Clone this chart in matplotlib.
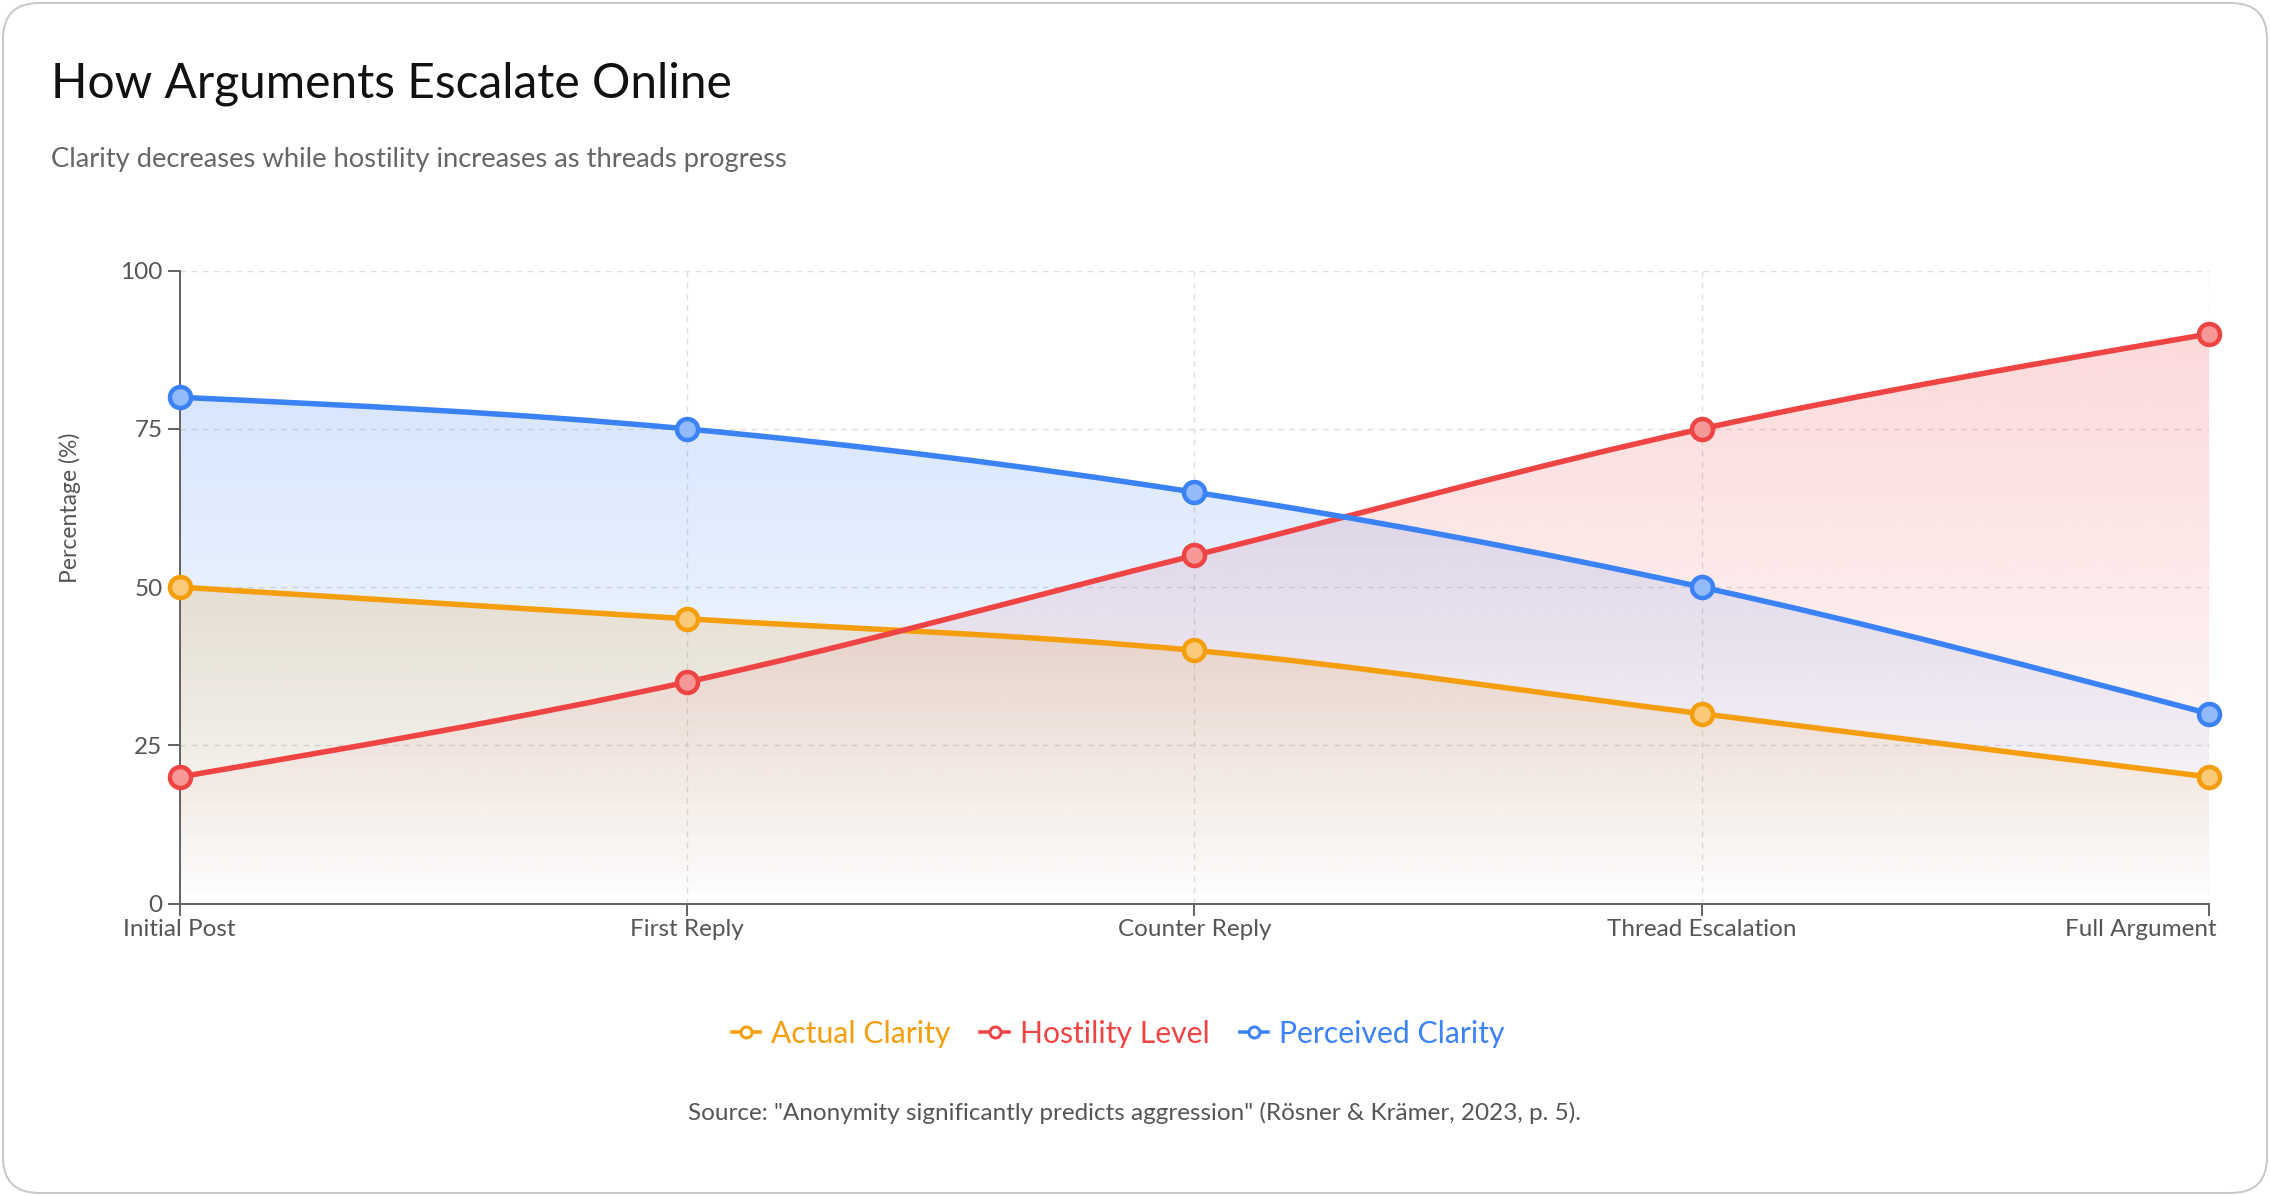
import numpy as np
import matplotlib
matplotlib.use("Agg")
import matplotlib.pyplot as plt
from matplotlib.path import Path
from matplotlib.patches import PathPatch, FancyBboxPatch
from matplotlib.lines import Line2D
from matplotlib.transforms import IdentityTransform, ScaledTranslation

# data
stages = ["Initial Post", "First Reply", "Counter Reply", "Thread Escalation", "Full Argument"]
actual_clarity = [50, 45, 40, 30, 20]
hostility_level = [20, 35, 55, 75, 90]
perceived_clarity = [80, 75, 65, 50, 30]

series_names = ["Actual Clarity", "Hostility Level", "Perceived Clarity"]
series_values = [actual_clarity, hostility_level, perceived_clarity]
series_colors = ["#f59e0b", "#ef4444", "#3b82f6"]

plt.rcParams["font.family"] = ["Lato", "DejaVu Sans"]

W, H = 2270, 1196
fig = plt.figure(figsize=(W / 100, H / 100), dpi=100)
PX = 0.72  # points per pixel


def monotone_tangents(x, y):
    # d3 curveMonotoneX style slopes
    n = len(x)
    h = np.diff(x)
    s = np.diff(y) / h
    t = np.zeros(n)
    for i in range(1, n - 1):
        p = (s[i - 1] * h[i] + s[i] * h[i - 1]) / (h[i - 1] + h[i])
        t[i] = (np.sign(s[i - 1]) + np.sign(s[i])) * min(abs(s[i - 1]), abs(s[i]), 0.5 * abs(p))
    t[0] = (3 * s[0] - t[1]) / 2
    t[-1] = (3 * s[-1] - t[-2]) / 2
    return t


def curve_path(x, y, close_to_zero=False):
    t = monotone_tangents(x, y)
    verts = [(x[0], y[0])]
    codes = [Path.MOVETO]
    for i in range(len(x) - 1):
        dx = (x[i + 1] - x[i]) / 3
        verts += [(x[i] + dx, y[i] + dx * t[i]),
                  (x[i + 1] - dx, y[i + 1] - dx * t[i + 1]),
                  (x[i + 1], y[i + 1])]
        codes += [Path.CURVE4] * 3
    if close_to_zero:
        verts += [(x[-1], 0), (x[0], 0), (x[0], y[0])]
        codes += [Path.LINETO, Path.LINETO, Path.CLOSEPOLY]
    return Path(verts, codes)


# card border
card = FancyBboxPatch((3, 3), W - 6, H - 6, boxstyle="round,pad=0,rounding_size=36",
                      transform=IdentityTransform(), facecolor="white",
                      edgecolor="#c8c8c8", linewidth=2 * PX, zorder=-10)
fig.patches.append(card)

ax = fig.add_axes([179.5 / W, 1 - 903.5 / H, (2209 - 179.5) / W, (903.5 - 270.7) / H])
ax.set_facecolor("none")

x = np.arange(len(stages), dtype=float)

# gradient areas
for vals, col in zip(series_values, series_colors):
    y = np.array(vals, dtype=float)
    patch = PathPatch(curve_path(x, y, close_to_zero=True), facecolor="none",
                      edgecolor="none")
    ax.add_patch(patch)
    rgb = matplotlib.colors.to_rgb(col)
    grad = np.zeros((256, 2, 4))
    grad[:, :, :3] = rgb
    alpha = np.linspace(0.2, 0.0, 256)
    grad[:, :, 3] = alpha[:, None]
    im = ax.imshow(grad, extent=(x[0], x[-1], 0, y.max()), origin="upper",
                   aspect="auto", interpolation="bilinear", zorder=1)
    im.set_clip_path(patch)

# lines and markers
for vals, col in zip(series_values, series_colors):
    y = np.array(vals, dtype=float)
    line = PathPatch(curve_path(x, y), facecolor="none", edgecolor=col,
                     linewidth=5.5 * PX, capstyle="round", joinstyle="round", zorder=3)
    ax.add_patch(line)
    face = tuple(0.55 * np.array(matplotlib.colors.to_rgb(col)) + 0.45)
    ax.plot(x, y, linestyle="none", marker="o", markersize=21 * PX,
            markerfacecolor=face, markeredgecolor=col, markeredgewidth=4.5 * PX,
            zorder=4, clip_on=False)

ax.set_xlim(x[0], x[-1])
ax.set_ylim(0, 100)
ax.set_yticks([0, 25, 50, 75, 100])
ax.set_xticks(x)
ax.set_xticklabels(stages)

ax.grid(True, color="#dddddd", linestyle=(0, (4, 4)), linewidth=1.4 * PX, zorder=0)
ax.set_axisbelow(True)
for side in ["top", "right"]:
    ax.spines[side].set_visible(False)
for side in ["left", "bottom"]:
    ax.spines[side].set_color("#666666")
    ax.spines[side].set_linewidth(2 * PX)
ax.tick_params(axis="both", colors="#666666", length=12 * PX, width=2 * PX,
               labelsize=17.5, labelcolor="#555555")
ax.tick_params(axis="y", pad=5 * PX)
ax.tick_params(axis="x", pad=4 * PX)

# last category label is kept inside the card, like the reference
last = ax.get_xticklabels()[-1]
last.set_horizontalalignment("right")
last.set_transform(last.get_transform() + ScaledTranslation(8 / 100, 0, fig.dpi_scale_trans))

# texts
fig.text(51 / W, 1 - 84 / H, "How Arguments Escalate Online", fontsize=34.5,
         color="#111111", va="center", ha="left")
fig.text(51 / W, 1 - 159 / H, "Clarity decreases while hostility increases as threads progress",
         fontsize=19.7, color="#666666", va="center", ha="left")
fig.text(69.5 / W, 1 - 508 / H, "Percentage (%)", fontsize=16.5, color="#555555",
         rotation=90, va="center", ha="center")
fig.text(1134 / W, 1 - 1113 / H,
         "Source: \"Anonymity significantly predicts aggression\" (Rösner & Krämer, 2023, p. 5).",
         fontsize=17.5, color="#555555", va="center", ha="center")

handles = [Line2D([0], [0], color=c, linewidth=3.5 * PX, marker="o", markersize=11 * PX,
                  markerfacecolor="white", markeredgecolor=c, markeredgewidth=3 * PX)
           for c in series_colors]
leg = fig.legend(handles, series_names, loc="center", bbox_to_anchor=(1118 / W, 1 - 1034 / H),
                 ncol=3, frameon=False, fontsize=21.7, handlelength=0.95, handletextpad=0.35,
                 columnspacing=1.0, labelcolor="linecolor")

fig.savefig("out.png", dpi=100, facecolor="white")
